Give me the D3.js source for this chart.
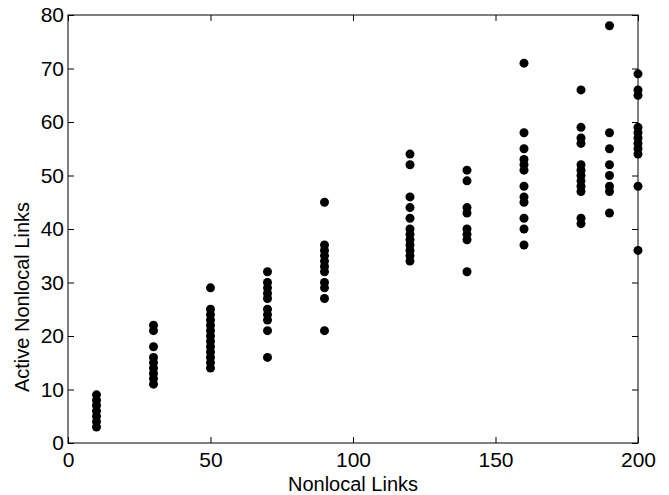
<html>
<head>
  <script src="https://cdn.jsdelivr.net/npm/d3@7"></script>
  <style>
    body { margin: 0; background: #fff; }
    text { font-family: "Liberation Sans", Arial, sans-serif; fill: #000; }
  </style>
</head>
<body>
<script>
// Nonlocal link counts (x) and active nonlocal links observed at each
const x10 = [9, 8, 7, 6, 5, 4, 3];
const x30 = [22, 21, 18, 16, 15, 14, 13, 12, 11];
const x50 = [29, 25, 24, 23, 22, 21, 20, 19, 18, 17, 16, 15, 14];
const x70 = [32, 30, 29, 28, 27, 25, 24, 23, 21, 16];
const x90 = [45, 37, 36, 35, 34, 33, 32, 30, 29, 27, 21];
const x120 = [54, 52, 46, 44, 42, 40, 39, 38, 37, 36, 35, 34];
const x140 = [51, 49, 44, 43, 40, 39, 38, 32];
const x160 = [71, 58, 55, 53, 52, 51, 48, 46, 45, 42, 40, 37];
const x180 = [66, 59, 57, 56, 52, 51, 50, 49, 48, 47, 42, 41];
const x190 = [78, 58, 55, 52, 50, 48, 47, 43];
const x200 = [69, 66, 65, 59, 58, 57, 56, 55, 54, 48, 36];

const columns = [
  [10, x10], [30, x30], [50, x50], [70, x70], [90, x90], [120, x120],
  [140, x140], [160, x160], [180, x180], [190, x190], [200, x200]
];

const xTicks = [0, 50, 100, 150, 200];
const yTicks = [0, 10, 20, 30, 40, 50, 60, 70, 80];

const w = 669, h = 495;
const padLeft = 68, padRight = 638, padTop = 15, padBottom = 443;

const points = [];
columns.forEach(function(c) {
  c[1].forEach(function(v) { points.push({ x: c[0], y: v }); });
});

const xScale = d3.scaleLinear().domain([0, 200]).range([padLeft, padRight]);
const yScale = d3.scaleLinear().domain([0, 80]).range([padBottom, padTop]);

const svg = d3.select("body").append("svg")
  .attr("width", w)
  .attr("height", h);

// Points
svg.append("g")
  .selectAll("circle")
  .data(points)
  .enter()
  .append("circle")
  .attr("cx", function(d) { return xScale(d.x); })
  .attr("cy", function(d) { return yScale(d.y); })
  .attr("r", 4.5)
  .attr("fill", "#000");

// Axes (ticks pointing inward, like the original)
const xAxis = d3.axisBottom(xScale).tickValues(xTicks).tickSizeInner(-6).tickSizeOuter(0).tickPadding(9);
const yAxis = d3.axisLeft(yScale).tickValues(yTicks).tickSizeInner(-6).tickSizeOuter(0).tickPadding(4);

const gx = svg.append("g")
  .attr("transform", "translate(0," + padBottom + ")")
  .call(xAxis);
const gy = svg.append("g")
  .attr("transform", "translate(" + padLeft + ",0)")
  .call(yAxis);

svg.append("g")
  .attr("transform", "translate(0," + padTop + ")")
  .call(d3.axisTop(xScale).tickValues(xTicks).tickSizeInner(-6).tickSizeOuter(0).tickFormat(""));
svg.append("g")
  .attr("transform", "translate(" + padRight + ",0)")
  .call(d3.axisRight(yScale).tickValues(yTicks).tickSizeInner(-6).tickSizeOuter(0).tickFormat(""));

svg.selectAll(".domain").remove();
svg.selectAll(".tick line").attr("stroke", "#000");
gx.selectAll("text").style("font-size", "21px").attr("dy", "0.71em");
gy.selectAll("text").style("font-size", "21px");

// Frame
svg.append("rect")
  .attr("x", padLeft)
  .attr("y", padTop)
  .attr("width", padRight - padLeft)
  .attr("height", padBottom - padTop)
  .attr("fill", "none")
  .attr("stroke", "#000")
  .attr("stroke-width", 1);

// Axis labels
svg.append("text")
  .attr("x", (padLeft + padRight) / 2)
  .attr("y", 491)
  .attr("text-anchor", "middle")
  .style("font-size", "20px")
  .text("Nonlocal Links");

svg.append("text")
  .attr("transform", "translate(29,297) rotate(-90)")
  .attr("text-anchor", "middle")
  .style("font-size", "20px")
  .text("Active Nonlocal Links");
</script>
</body>
</html>
